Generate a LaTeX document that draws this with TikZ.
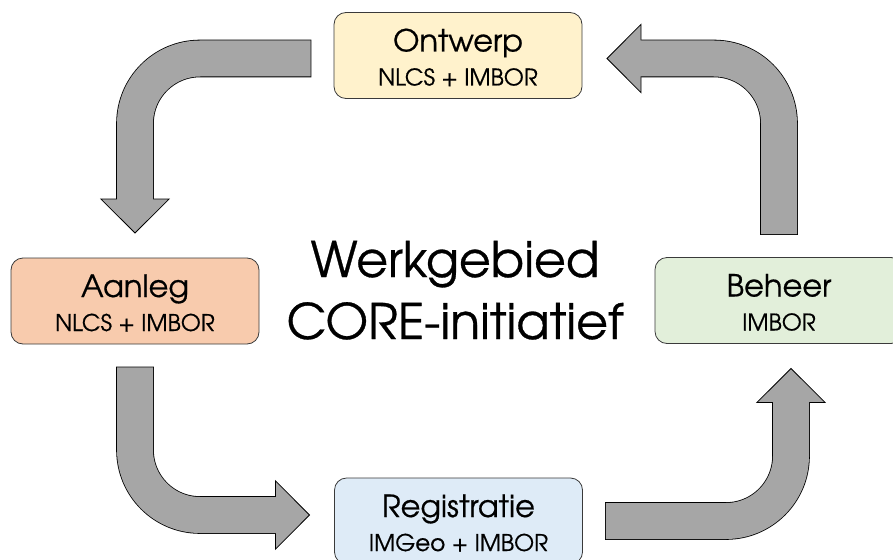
\documentclass[tikz,border=0pt]{standalone}
\usepackage{fontspec}
\setmainfont{texgyreadventor-regular.otf}[FakeBold=0.6]
\usetikzlibrary{arrows.meta}

\definecolor{arrowgray}{HTML}{A6A6A6}
\definecolor{ontwerpfill}{HTML}{FFF2CC}
\definecolor{aanlegfill}{HTML}{F8CBAD}
\definecolor{beheerfill}{HTML}{E2EFDA}
\definecolor{registratiefill}{HTML}{DEEBF7}
\definecolor{boxline}{HTML}{3A3A3A}

% block arrow: black rim first, grey body on top
\newcommand\bentarrow[3]{%
  \draw[arrowrim] (#1) #2 (#3);
  \draw[arrowbody] (#1) #2 (#3);
}

\begin{document}
\begin{tikzpicture}[x=1pt,y=-1pt,
  phase/.style={draw=boxline,line width=0.8pt,rounded corners=12pt,minimum width=248pt,minimum height=86pt,inner sep=0pt},
  phasetitle/.style={anchor=base,inner sep=0pt,font=\fontsize{30.5}{33}\selectfont},
  phasesub/.style={anchor=base,inner sep=0pt,font=\fontsize{23}{26}\selectfont},
  bigtext/.style={anchor=base,inner sep=0pt,font=\fontsize{49}{56}\selectfont},
  arrowrim/.style={draw=black,line width=37.6pt,rounded corners=65pt,shorten <=22.2pt,shorten >=24pt,
    -{Triangle[width=70pt,length=35pt,line width=0.8pt,fill=arrowgray]}},
  arrowbody/.style={draw=arrowgray,line width=36pt,rounded corners=65pt,shorten <=23pt,shorten >=57.5pt}]
  \useasboundingbox (0,0) rectangle (893,559);

  \foreach \name/\x/\y/\col/\title/\sub in {
    ontwerp/458/55.5/ontwerpfill/Ontwerp/NLCS + IMBOR,
    aanleg/135/301/aanlegfill/Aanleg/NLCS + IMBOR,
    beheer/779/300.5/beheerfill/Beheer/IMBOR,
    registratie/458.5/521/registratiefill/Registratie/IMGeo + IMBOR} {
    \node[phase,fill=\col] (\name) at (\x,\y) {};
    \node[phasetitle] (\name-title) at ([yshift=4pt]\name.center) {\title};
    \node[phasesub] (\name-sub) at ([yshift=-30pt]\name.center) {\sub};
  }

  \node[bigtext] (werkgebied) at (455,277) {Werkgebied};
  \node[bigtext] (core) at (455,339) {CORE-initiatief};

  % the cycle
  \bentarrow{[yshift=-3pt]ontwerp.west}{-|}{aanleg.north}
  \bentarrow{aanleg.south}{|-}{[yshift=6pt]registratie.west}
  \bentarrow{registratie.east}{-|}{[xshift=12pt]beheer.south}
  \bentarrow{beheer.north}{|-}{[yshift=-3pt]ontwerp.east}
\end{tikzpicture}
\end{document}
